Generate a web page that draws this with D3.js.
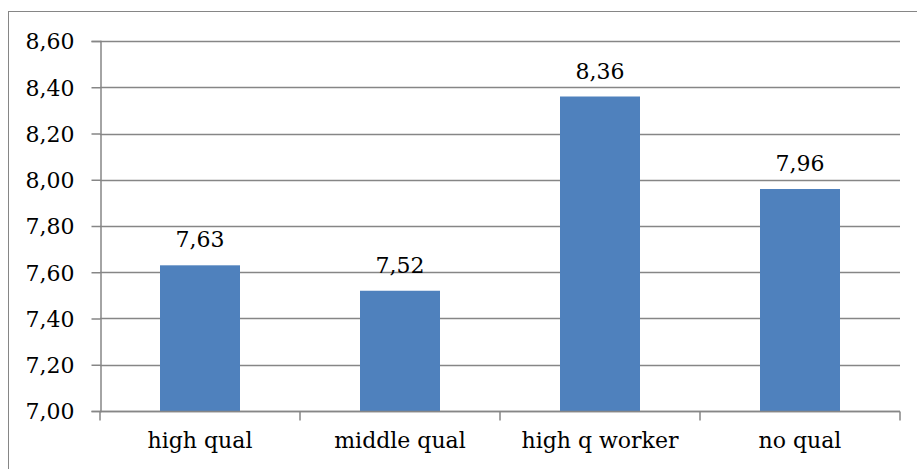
<!DOCTYPE html>
<html>
<head>
<meta charset="utf-8">
<script src="https://cdn.jsdelivr.net/npm/d3@7"></script>
<style>
  html, body { margin: 0; padding: 0; background: #fff; overflow: hidden; }
  svg { display: block; }
  svg text { font-family: "DejaVu Serif", "Liberation Serif", "Times New Roman", "Noto Serif", Georgia, serif; fill: #000; }
</style>
</head>
<body>
<svg id="chart" width="917" height="469"></svg>
<script>
// Mean score per qualification group
const categories = ["high qual", "middle qual", "high q worker", "no qual"];
const values = [7.63, 7.52, 8.36, 7.96];
const yTicks = [7.0, 7.2, 7.4, 7.6, 7.8, 8.0, 8.2, 8.4, 8.6];

const fmt = v => v.toFixed(2).replace(".", ",");
const FONT = '"DejaVu Serif", "Liberation Serif", "Times New Roman", "Noto Serif", Georgia, serif';
const FS = "22px";

const svg = d3.select("#chart");
const plot = { left: 100, right: 900, top: 41, bottom: 411 };
const gridColor = "#868686";

// chart frame (runs past the right and bottom edges of the view)
svg.append("rect")
  .attr("x", 8.5).attr("y", 11.5)
  .attr("width", 920).attr("height", 470)
  .attr("fill", "#fff").attr("stroke", gridColor).attr("stroke-width", 1);

const x = d3.scaleBand()
  .domain(categories)
  .range([plot.left, plot.right])
  .paddingInner(0.6)
  .paddingOuter(0.3);

const xOuter = d3.scaleBand()
  .domain(categories)
  .range([plot.left, plot.right]);

const y = d3.scaleLinear()
  .domain([7.0, 8.6])
  .range([plot.bottom, plot.top]);

// horizontal gridlines
svg.append("g")
  .selectAll("line")
  .data(yTicks)
  .join("line")
  .attr("x1", plot.left).attr("x2", plot.right)
  .attr("y1", d => Math.round(y(d)) + 0.5)
  .attr("y2", d => Math.round(y(d)) + 0.5)
  .attr("stroke", gridColor).attr("stroke-width", 1.5);

// y axis
const yAxis = d3.axisLeft(y)
  .tickValues(yTicks)
  .tickFormat(fmt)
  .tickSize(9)
  .tickPadding(17);

const gy = svg.append("g")
  .attr("transform", `translate(${plot.left + 0.5},0)`)
  .call(yAxis)
  .attr("font-family", FONT)
  .attr("font-size", FS);
gy.select(".domain").attr("stroke", gridColor).attr("stroke-width", 1.5);
gy.selectAll(".tick line").attr("stroke", gridColor).attr("stroke-width", 1.5);
gy.selectAll(".tick text")
  .style("font-family", FONT)
  .style("font-size", FS)
  .attr("dy", "0.36em");

// bars
svg.append("g")
  .selectAll("rect")
  .data(values)
  .join("rect")
  .attr("x", (d, i) => x(categories[i]))
  .attr("width", x.bandwidth())
  .attr("y", d => y(d))
  .attr("height", d => y(7.0) - y(d))
  .attr("fill", "#4F81BD");

// x axis with category boundary ticks
const gx = svg.append("g")
  .attr("transform", `translate(0,${Math.round(plot.bottom) + 0.5})`);
gx.append("line")
  .attr("x1", plot.left).attr("x2", plot.right)
  .attr("stroke", gridColor).attr("stroke-width", 1.5);
const bounds = categories.map(c => xOuter(c)).concat([plot.right]);
gx.selectAll("line.tick")
  .data(bounds)
  .join("line")
  .attr("class", "tick")
  .attr("x1", d => d).attr("x2", d => d)
  .attr("y1", 0).attr("y2", 9)
  .attr("stroke", gridColor).attr("stroke-width", 1.5);
gx.selectAll("text")
  .data(categories)
  .join("text")
  .attr("x", d => xOuter(d) + xOuter.bandwidth() / 2)
  .attr("y", 36)
  .attr("text-anchor", "middle")
  .style("font-family", FONT)
  .style("font-size", FS)
  .text(d => d);

// value labels
svg.append("g")
  .selectAll("text")
  .data(values)
  .join("text")
  .attr("x", (d, i) => x(categories[i]) + x.bandwidth() / 2)
  .attr("y", d => y(d) - 18)
  .attr("text-anchor", "middle")
  .style("font-family", FONT)
  .style("font-size", FS)
  .text(d => fmt(d));
</script>
</body>
</html>
